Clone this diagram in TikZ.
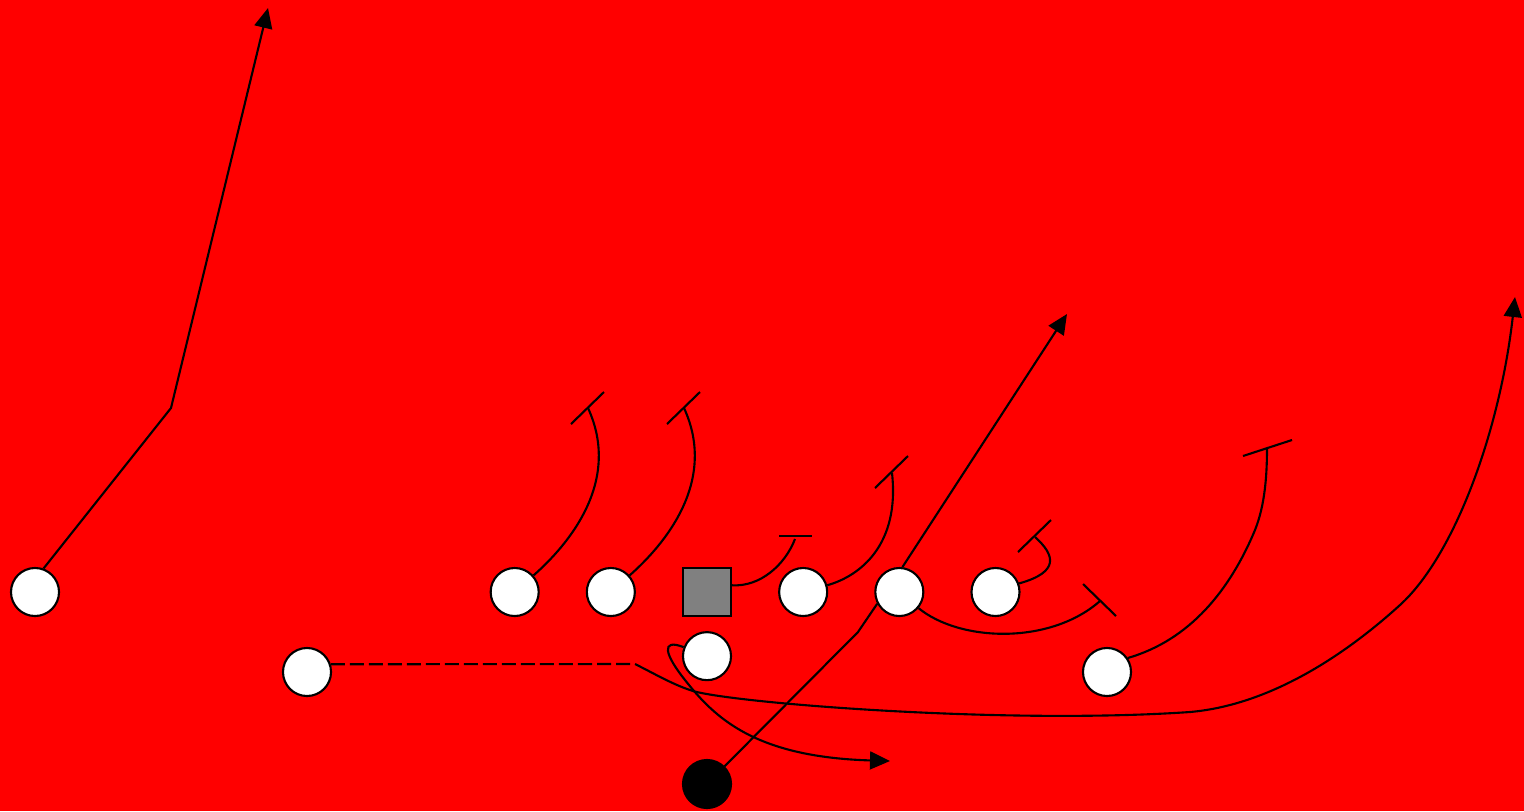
\documentclass[tikz,border=0pt]{standalone}
\usepackage{tikz}
\usetikzlibrary{positioning}
\usetikzlibrary{arrows.meta}
\tikzset{
	node distance = 0.46cm and 0.46cm,
	player/.style = {circle, draw, fill=white, minimum size=0.48cm, inner sep=0pt},
	snapper/.style = {rectangle, draw, fill=gray, minimum size=0.48cm, inner sep=0pt},
	ball/.style = {circle, draw, fill=black, minimum size=0.48cm, inner sep=0pt},
	run/.style = {-{Triangle[length=0.2cm, width=0.18cm]}},
	motion/.style = {dash pattern=on 0.14cm off 0.05cm},
}
\begin{document}
\begin{tikzpicture}[x=0.01cm, y=-0.01cm, semithick]
	\fill[red] (0,0) rectangle (1524,811);
	\node (ctr) [snapper] at (707,592) {};
	\node (grL) [player, left = of ctr] {};
	\node (tkL) [player, left = of grL] {};
	\node (grR) [player, right = of ctr] {};
	\node (tkR) [player, right = of grR] {};
	\node (te) [player, right = of tkR] {};
	\node (fb) [player, below = 0.14cm of ctr] {};
	\node (wrL) [player] at (35,592) {};
	\node (hb) [player] at (307,672) {};
	\node (wg) [player] at (1107,672) {};
	\node (qb) [ball] at (707,784) {};
	\coordinate (wrLend) at (268,8);
	\coordinate (tkLend) at (588,408);
	\coordinate (grLend) at (684,408);
	\coordinate (ctrend) at (795,539);
	\coordinate (grRend) at (892,473);
	\coordinate (tkRend) at (1067,314);
	\coordinate (tkRblk) at (1100,601);
	\coordinate (teend) at (1035,537);
	\coordinate (wgend) at (1267,448);
	\coordinate (hbturn) at (635,664);
	\coordinate (hbend) at (1515,297);
	\coordinate (fbend) at (890,761);
	\draw[run] (wrL.70) -- (171,408) -- (wrLend);
	\draw (tkL) .. controls (568,545) and (622,482) .. (tkLend);
	\draw ([shift={(-17,16)}]tkLend) -- ([shift={(16,-16)}]tkLend);
	\draw (grL) .. controls (664,545) and (718,482) .. (grLend);
	\draw ([shift={(-17,16)}]grLend) -- ([shift={(16,-16)}]grLend);
	\draw (ctr.15) .. controls (760,587) and (785,565) .. (ctrend);
	\draw ([shift={(-16,-3)}]ctrend) -- ([shift={(17,-3)}]ctrend);
	\draw (grR) .. controls (860,576) and (900,545) .. (grRend);
	\draw ([shift={(-17,15)}]grRend) -- ([shift={(16,-17)}]grRend);
	\draw[run] (tkR.83) -- (tkRend);
	\draw (tkR.-40) .. controls (960,642) and (1050,645) .. (tkRblk);
	\draw ([shift={(-17,-17)}]tkRblk) -- ([shift={(16,15)}]tkRblk);
	\draw (te.20) .. controls (1060,572) and (1055,555) .. (teend);
	\draw ([shift={(-17,15)}]teend) -- ([shift={(16,-17)}]teend);
	\draw (wg.34) .. controls (1190,640) and (1230,590) .. (1255,530) .. controls (1265,505) and (1267,475) .. (wgend);
	\draw ([shift={(-24,8)}]wgend) -- ([shift={(25,-8)}]wgend);
	\draw[motion] (hb.18) -- (hbturn);
	\draw[run] (hbturn) .. controls (655,674) and (672,684) .. (690,690) .. controls (720,702) and (1000,725) .. (1190,712) .. controls (1270,705) and (1345,655) .. (1400,605) .. controls (1455,555) and (1500,430) .. (hbend);
	\draw[run] (fb) .. controls (660,638) and (665,655) .. (685,680) .. controls (715,718) and (755,757) .. (fbend);
	\draw (qb) -- (858,632) -- (tkR.208);
\end{tikzpicture}
\end{document}
